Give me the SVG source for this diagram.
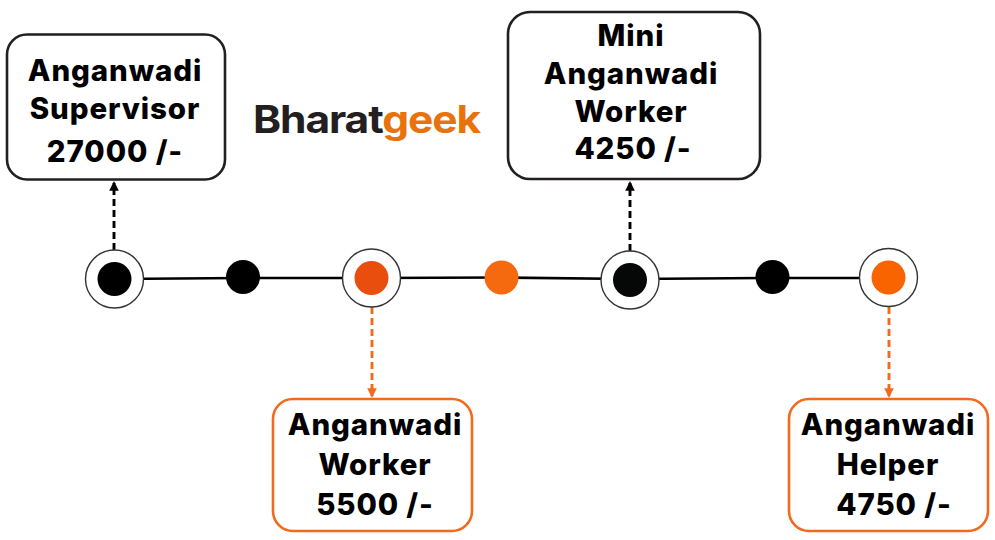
<svg xmlns="http://www.w3.org/2000/svg" width="995" height="540" viewBox="0 0 995 540">
<defs>
<marker id="ab" viewBox="0 0 10 10" refX="8" refY="5" markerWidth="3.3" markerHeight="3.3" orient="auto" markerUnits="strokeWidth"><path d="M0,0 L10,5 L0,10 z" fill="#000"/></marker>
<marker id="ao" viewBox="0 0 10 10" refX="8" refY="5" markerWidth="3.3" markerHeight="3.3" orient="auto" markerUnits="strokeWidth"><path d="M0,0 L10,5 L0,10 z" fill="#f26a1b"/></marker>
</defs>
<style>
.box{fill:#fff;stroke-width:2.6}
.bk{stroke:#231f20}
.or{stroke:#f26a1b}
.t{font-family:Inter,"Noto Sans","DejaVu Sans",sans-serif;font-weight:800;font-size:29.5px;letter-spacing:0.9px;fill:#000;text-anchor:middle}
.ring{fill:#fff;stroke:#333;stroke-width:1.4}
.dash{fill:none;stroke-width:2.9;stroke-dasharray:7 4}
</style>
<rect width="995" height="540" fill="#fff"/>
<g id="logo">
<text x="253" y="133" font-family="Inter,'Noto Sans',sans-serif" font-weight="700" font-size="38" textLength="227" lengthAdjust="spacingAndGlyphs" letter-spacing="-1"><tspan fill="#231f20">Bharat</tspan><tspan fill="#e8730c">geek</tspan></text>
</g>
<g id="connectors">
<polyline points="114,279 243,278 371,278 501,277.5 630,279 773,278 889,278" fill="none" stroke="#000" stroke-width="2.6"/>
<line class="dash" x1="114" y1="250" x2="114" y2="183" stroke="#000" marker-end="url(#ab)"/>
<line class="dash" x1="630" y1="251" x2="630" y2="183" stroke="#000" marker-end="url(#ab)"/>
<line class="dash" x1="372" y1="307" x2="372" y2="396" stroke="#f26a1b" marker-end="url(#ao)"/>
<line class="dash" x1="889" y1="307" x2="889" y2="396" stroke="#f26a1b" marker-end="url(#ao)"/>
</g>
<g id="timeline-nodes">
<g id="n1"><circle class="ring" cx="114.5" cy="279" r="29"/><circle cx="114.5" cy="279" r="17" fill="#000"/></g>
<g id="n2"><circle cx="243" cy="277" r="17" fill="#000"/></g>
<g id="n3"><circle class="ring" cx="371.5" cy="278" r="29"/><circle cx="371.5" cy="278" r="17" fill="#e94e0f"/></g>
<g id="n4"><circle cx="501.5" cy="277.5" r="17" fill="#f56a0f"/></g>
<g id="n5"><circle class="ring" cx="630" cy="280" r="29"/><circle cx="630" cy="280" r="17" fill="#050807"/></g>
<g id="n6"><circle cx="772.5" cy="277" r="17" fill="#000"/></g>
<g id="n7"><circle class="ring" cx="888.5" cy="277.5" r="29"/><circle cx="888.5" cy="277.5" r="17" fill="#f96300"/></g>
</g>
<g id="supervisor">
<rect class="box bk" x="7" y="34.5" width="218" height="145" rx="20"/>
<text class="t" x="115" y="81">Anganwadi</text>
<text class="t" x="115" y="119">Supervisor</text>
<text class="t" x="115" y="162">27000 /-</text>
</g>
<g id="mini">
<rect class="box bk" x="508" y="12" width="252" height="167" rx="22"/>
<text class="t" x="631" y="46">Mini</text>
<text class="t" x="631" y="84">Anganwadi</text>
<text class="t" x="631" y="122">Worker</text>
<text class="t" x="633" y="159">4250 /-</text>
</g>
<g id="worker">
<rect class="box or" x="273" y="399" width="199" height="132" rx="20"/>
<text class="t" x="375" y="435">Anganwadi</text>
<text class="t" x="375" y="475">Worker</text>
<text class="t" x="375" y="515">5500 /-</text>
</g>
<g id="helper">
<rect class="box or" x="789" y="399" width="199" height="132" rx="20"/>
<text class="t" x="888" y="435">Anganwadi</text>
<text class="t" x="888" y="475">Helper</text>
<text class="t" x="894" y="515">4750 /-</text>
</g>
</svg>
